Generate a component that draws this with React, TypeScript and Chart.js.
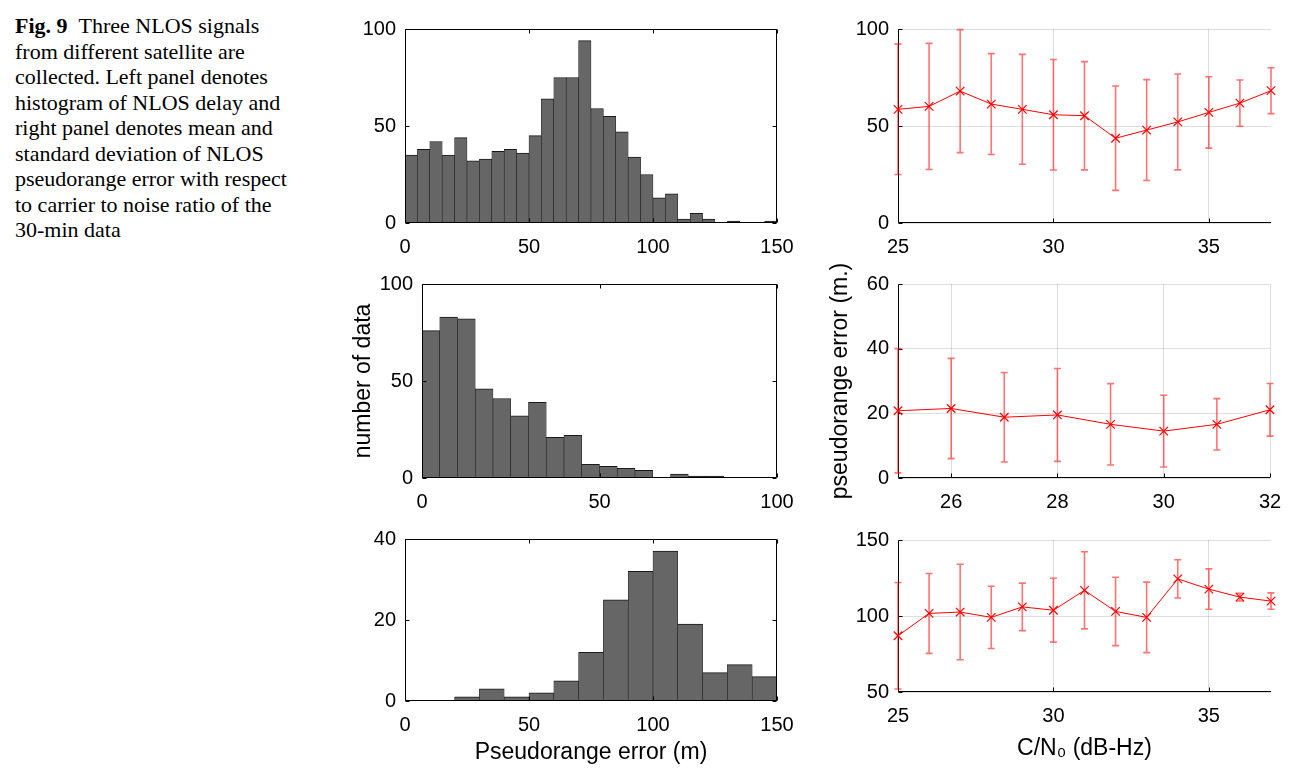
import React, { useEffect, useRef } from "react";
import { Chart, registerables } from "chart.js";

Chart.register(...registerables);

// ---------------- data ----------------
// Histogram 1 (satellite 1): 5 m bins, 0–150 m
const hist1BinCenters = [2.5, 7.5, 12.5, 17.5, 22.5, 27.5, 32.5, 37.5, 42.5, 47.5, 52.5, 57.5, 62.5, 67.5, 72.5, 77.5, 82.5, 87.5, 92.5, 97.5, 102.5, 107.5, 112.5, 117.5, 122.5, 127.5, 132.5, 137.5, 142.5, 147.5];
const hist1Counts = [35, 38, 42, 35, 44, 32, 33, 37, 38, 36, 45, 64, 75, 75, 94, 59, 55, 47, 34, 25, 13, 15, 2, 5, 2, 0, 1, 0, 0, 1];
const hist1XTicks = [0, 50, 100, 150];
const hist1YTicks = [0, 50, 100];

// Histogram 2 (satellite 2): 5 m bins, 0–100 m
const hist2BinCenters = [2.5, 7.5, 12.5, 17.5, 22.5, 27.5, 32.5, 37.5, 42.5, 47.5, 52.5, 57.5, 62.5, 67.5, 72.5, 77.5, 82.5, 87.5, 92.5, 97.5];
const hist2Counts = [76, 83, 82, 46, 41, 32, 39, 21, 22, 7, 6, 5, 4, 0, 2, 1, 1, 0, 0, 0];
const hist2XTicks = [0, 50, 100];
const hist2YTicks = [0, 50, 100];

// Histogram 3 (satellite 3): 10 m bins, 0–150 m
const hist3BinCenters = [5, 15, 25, 35, 45, 55, 65, 75, 85, 95, 105, 115, 125, 135, 145];
const hist3Counts = [0, 0, 1, 3, 1, 2, 5, 12, 25, 32, 37, 19, 7, 9, 6];
const hist3XTicks = [0, 50, 100, 150];
const hist3YTicks = [0, 20, 40];

// Error-bar panel 1
const err1CN0 = [25, 26, 27, 28, 29, 30, 31, 32, 33, 34, 35, 36, 37];
const err1Mean = [58.6, 60.1, 68, 61.3, 58.6, 55.8, 55.3, 43.7, 47.9, 52.1, 57, 61.8, 68.2];
const err1Std = [33.6, 32.5, 31.7, 26, 28.3, 28.5, 27.9, 26.9, 26, 24.7, 18.4, 11.9, 11.8];
const err1XTicks = [25, 30, 35];
const err1YTicks = [0, 50, 100];

// Error-bar panel 2
const err2CN0 = [25, 26, 27, 28, 29, 30, 31, 32];
const err2Mean = [20.8, 21.5, 18.8, 19.5, 16.6, 14.5, 16.6, 21.1];
const err2Std = [19.2, 15.5, 13.85, 14.35, 12.6, 11.1, 7.95, 8.15];
const err2XTicks = [26, 28, 30, 32];
const err2YTicks = [0, 20, 40, 60];

// Error-bar panel 3
const err3CN0 = [25, 26, 27, 28, 29, 30, 31, 32, 33, 34, 35, 36, 37];
const err3Mean = [87, 101.7, 102.6, 99.1, 106, 103.8, 116.9, 103, 99.1, 124.4, 117.7, 112.4, 109.8];
const err3Std = [35, 26.3, 31.4, 20.5, 15.6, 21, 25.4, 22.5, 23.2, 12.6, 13.3, 2.5, 5.4];
const err3XTicks = [25, 30, 35];
const err3YTicks = [50, 100, 150];

const captionLines = [
  "from different satellite are",
  "collected. Left panel denotes",
  "histogram of NLOS delay and",
  "right panel denotes mean and",
  "standard deviation of NLOS",
  "pseudorange error with respect",
  "to carrier to noise ratio of the",
  "30-min data",
];

// ---------------- styles / layout ----------------
const FONT = '"Liberation Sans", Arial, Helvetica, sans-serif';
const TICK_FONT = { family: FONT, size: 20 };
const TITLE_FONT = { family: FONT, size: 23 };
const BAR_FILL = "#666666";
const BAR_EDGE = "#1a1a1a";
const RED = "#ff0000";
const ERR_COLOR = "rgba(255,0,0,0.55)";
const GRID = "rgba(0,0,0,0.13)";

const ML = 90; // space left of plot area inside canvas
const MT = 16; // space above plot area
const MR = 30; // space right of plot area

Chart.defaults.font.family = FONT;
Chart.defaults.color = "#000";

type Rect = { l: number; t: number; r: number; b: number };

function canvasBox(rect: Rect, mb: number) {
  return {
    left: rect.l - ML,
    top: rect.t - MT,
    width: rect.r - rect.l + ML + MR,
    height: rect.b - rect.t + MT + mb,
  };
}

function fixedTicks(values: number[]) {
  return (scale: any) => {
    scale.ticks = values.map((v) => ({ value: v }));
  };
}

// ---------------- plugins ----------------
function drawAxes(chart: any, opts: any) {
  const { ctx, chartArea: a } = chart;
  const xs = chart.scales.x;
  const ys = chart.scales.y;
  const L = Math.round(a.left) + 0.5;
  const R = Math.round(a.right) - 0.5;
  const T = Math.round(a.top) + 0.5;
  const B = Math.round(a.bottom) - 0.5;
  const len = 4;
  ctx.save();
  ctx.strokeStyle = "#000";
  ctx.lineWidth = 1;
  ctx.beginPath();
  if (opts.box) {
    ctx.rect(L, T, R - L, B - T);
  } else {
    ctx.moveTo(L, T);
    ctx.lineTo(L, B);
    ctx.lineTo(R + 0.5, B);
  }
  xs.ticks.forEach((t: any) => {
    const px = Math.round(xs.getPixelForValue(t.value)) + 0.5;
    ctx.moveTo(px, B);
    ctx.lineTo(px, B - len);
    if (opts.box) {
      ctx.moveTo(px, T);
      ctx.lineTo(px, T + len);
    }
  });
  ys.ticks.forEach((t: any) => {
    const py = Math.round(ys.getPixelForValue(t.value)) + 0.5;
    ctx.moveTo(L, py);
    ctx.lineTo(L + len, py);
    if (opts.box) {
      ctx.moveTo(R, py);
      ctx.lineTo(R - len, py);
    }
  });
  ctx.stroke();
  ctx.restore();
}

const axesDecorPlugin = {
  id: "axesDecor",
  beforeDatasetsDraw(chart: any, _a: any, opts: any) {
    if (!opts.over) drawAxes(chart, opts);
  },
  afterDatasetsDraw(chart: any, _a: any, opts: any) {
    if (opts.over) drawAxes(chart, opts);
  },
};

const errorBarPlugin = {
  id: "errorBars",
  beforeDatasetsDraw(chart: any) {
    const ds: any = chart.data.datasets[0];
    const std: number[] = ds.errorStd;
    if (!std) return;
    const { ctx } = chart;
    const xs = chart.scales.x;
    const ys = chart.scales.y;
    const cap = 3.5;
    ctx.save();
    ctx.strokeStyle = ERR_COLOR;
    ctx.lineWidth = 1.6;
    ctx.beginPath();
    ds.data.forEach((p: any, i: number) => {
      const px = xs.getPixelForValue(p.x);
      const top = ys.getPixelForValue(p.y + std[i]);
      const bot = ys.getPixelForValue(p.y - std[i]);
      ctx.moveTo(px, top);
      ctx.lineTo(px, bot);
      ctx.moveTo(px - cap, top);
      ctx.lineTo(px + cap, top);
      ctx.moveTo(px - cap, bot);
      ctx.lineTo(px + cap, bot);
    });
    ctx.stroke();
    ctx.restore();
  },
};

const sideTitlePlugin = {
  id: "sideTitle",
  afterDraw(chart: any, _a: any, opts: any) {
    if (!opts || !opts.text) return;
    const { ctx, chartArea: a } = chart;
    ctx.save();
    ctx.translate(a.left - opts.offset, (a.top + a.bottom) / 2);
    ctx.rotate(-Math.PI / 2);
    ctx.font = `${TITLE_FONT.size}px ${FONT}`;
    ctx.fillStyle = "#000";
    ctx.textAlign = "center";
    ctx.textBaseline = "middle";
    ctx.fillText(opts.text, 0, 0);
    ctx.restore();
  },
};

// ---------------- config builders ----------------
type HistSpec = {
  rect: Rect;
  mb: number;
  centers: number[];
  counts: number[];
  xMax: number;
  yMax: number;
  xTicks: number[];
  yTicks: number[];
  xTitle?: string;
  xTitlePad?: number;
  yTitle?: string;
  yTitlePad?: number;
};

function histConfig(s: HistSpec): any {
  return {
    type: "bar",
    data: {
      datasets: [
        {
          data: s.centers.map((c, i) => ({ x: c, y: s.counts[i] })),
          backgroundColor: BAR_FILL,
          borderColor: BAR_EDGE,
          borderWidth: { top: 1, left: 0.6, right: 0.6, bottom: 0 },
          borderSkipped: "start",
          barPercentage: 1,
          categoryPercentage: 1,
          grouped: false,
        },
      ],
    },
    options: {
      responsive: false,
      animation: false,
      devicePixelRatio: 1,
      events: [],
      layout: { padding: { top: MT, right: MR, left: 0, bottom: 0 } },
      plugins: {
        legend: { display: false },
        tooltip: { enabled: false },
        axesDecor: { box: true, over: true },
      },
      scales: {
        x: {
          type: "linear",
          min: 0,
          max: s.xMax,
          offset: false,
          grid: { display: false, drawTicks: false, offset: false },
          border: { display: false },
          ticks: { font: TICK_FONT, color: "#000", padding: 12, maxRotation: 0, autoSkip: false, callback: (v: any) => String(v) },
          afterBuildTicks: fixedTicks(s.xTicks),
          afterFit: (sc: any) => {
            sc.height = s.mb;
          },
          title: s.xTitle
            ? { display: true, text: s.xTitle, font: TITLE_FONT, color: "#000", padding: { top: 0, bottom: s.xTitlePad || 0 } }
            : { display: false },
        },
        y: {
          type: "linear",
          min: 0,
          max: s.yMax,
          grid: { display: false, drawTicks: false },
          border: { display: false },
          ticks: { font: TICK_FONT, color: "#000", padding: 9, autoSkip: false, callback: (v: any) => String(v) },
          afterBuildTicks: fixedTicks(s.yTicks),
          afterFit: (sc: any) => {
            sc.width = ML;
          },
          title: s.yTitle
            ? { display: true, text: s.yTitle, font: TITLE_FONT, color: "#000", padding: { top: s.yTitlePad || 0, bottom: 0 } }
            : { display: false },
        },
      },
    },
    plugins: [axesDecorPlugin],
  };
}

type ErrSpec = {
  rect: Rect;
  mb: number;
  cn0: number[];
  mean: number[];
  std: number[];
  xMin: number;
  xMax: number;
  yMin: number;
  yMax: number;
  xTicks: number[];
  yTicks: number[];
  xTitle?: string;
  xTitlePad?: number;
  yTitle?: string;
  yTitleOffset?: number;
};

function errConfig(s: ErrSpec): any {
  const plugins: any[] = [axesDecorPlugin, errorBarPlugin];
  if (s.yTitle) plugins.push(sideTitlePlugin);
  return {
    type: "line",
    data: {
      datasets: [
        {
          data: s.cn0.map((x, i) => ({ x, y: s.mean[i] })),
          errorStd: s.std,
          borderColor: RED,
          borderWidth: 1,
          pointStyle: "crossRot",
          pointRadius: 6,
          pointHoverRadius: 6,
          pointBorderColor: RED,
          pointBackgroundColor: RED,
          pointBorderWidth: 1.2,
          fill: false,
          tension: 0,
          clip: false,
        },
      ],
    },
    options: {
      responsive: false,
      animation: false,
      devicePixelRatio: 1,
      events: [],
      layout: { padding: { top: MT, right: MR, left: 0, bottom: 0 } },
      plugins: {
        legend: { display: false },
        tooltip: { enabled: false },
        axesDecor: { box: false, over: false },
        sideTitle: s.yTitle ? { text: s.yTitle, offset: s.yTitleOffset || 57 } : {},
      },
      scales: {
        x: {
          type: "linear",
          min: s.xMin,
          max: s.xMax,
          grid: { color: GRID, lineWidth: 1, drawTicks: false },
          border: { display: false },
          ticks: { font: TICK_FONT, color: "#000", padding: 12, maxRotation: 0, autoSkip: false, callback: (v: any) => String(v) },
          afterBuildTicks: fixedTicks(s.xTicks),
          afterFit: (sc: any) => {
            sc.height = s.mb;
          },
          title: s.xTitle
            ? { display: true, text: s.xTitle, font: TITLE_FONT, color: "#000", padding: { top: 0, bottom: s.xTitlePad || 0 } }
            : { display: false },
        },
        y: {
          type: "linear",
          min: s.yMin,
          max: s.yMax,
          grid: { color: GRID, lineWidth: 1, drawTicks: false },
          border: { display: false },
          ticks: { font: TICK_FONT, color: "#000", padding: 9, autoSkip: false, callback: (v: any) => String(v) },
          afterBuildTicks: fixedTicks(s.yTicks),
          afterFit: (sc: any) => {
            sc.width = ML;
          },
        },
      },
    },
    plugins,
  };
}

// ---------------- panel specs ----------------
const hist1: HistSpec = {
  rect: { l: 405, t: 24, r: 777, b: 223 },
  mb: 40,
  centers: hist1BinCenters,
  counts: hist1Counts,
  xMax: 150,
  yMax: 100,
  xTicks: hist1XTicks,
  yTicks: hist1YTicks,
};

const hist2: HistSpec = {
  rect: { l: 422, t: 279, r: 777, b: 478 },
  mb: 40,
  centers: hist2BinCenters,
  counts: hist2Counts,
  xMax: 100,
  yMax: 100,
  xTicks: hist2XTicks,
  yTicks: hist2YTicks,
  yTitle: "number of data",
  yTitlePad: 18,
};

const hist3: HistSpec = {
  rect: { l: 405, t: 534, r: 777, b: 701 },
  mb: 70,
  centers: hist3BinCenters,
  counts: hist3Counts,
  xMax: 150,
  yMax: 40,
  xTicks: hist3XTicks,
  yTicks: hist3YTicks,
  xTitle: "Pseudorange error (m)",
  xTitlePad: 5,
};

const err1: ErrSpec = {
  rect: { l: 898, t: 24, r: 1271, b: 223 },
  mb: 40,
  cn0: err1CN0,
  mean: err1Mean,
  std: err1Std,
  xMin: 25,
  xMax: 37,
  yMin: 0,
  yMax: 100,
  xTicks: err1XTicks,
  yTicks: err1YTicks,
};

const err2: ErrSpec = {
  rect: { l: 898, t: 279, r: 1270, b: 478 },
  mb: 40,
  cn0: err2CN0,
  mean: err2Mean,
  std: err2Std,
  xMin: 25,
  xMax: 32,
  yMin: 0,
  yMax: 60,
  xTicks: err2XTicks,
  yTicks: err2YTicks,
  yTitle: "pseudorange error (m.)",
  yTitleOffset: 57,
};

const err3: ErrSpec = {
  rect: { l: 898, t: 535, r: 1271, b: 692 },
  mb: 70,
  cn0: err3CN0,
  mean: err3Mean,
  std: err3Std,
  xMin: 25,
  xMax: 37,
  yMin: 50,
  yMax: 150,
  xTicks: err3XTicks,
  yTicks: err3YTicks,
  xTitle: "C/N\u2080 (dB-Hz)",
  xTitlePad: 0,
};

// ---------------- components ----------------
function ChartCanvas({ rect, mb, build }: { rect: Rect; mb: number; build: () => any }) {
  const ref = useRef<HTMLCanvasElement>(null);
  const box = canvasBox(rect, mb);
  useEffect(() => {
    if (!ref.current) return;
    const chart = new Chart(ref.current, build());
    return () => chart.destroy();
  }, []);
  return (
    <canvas
      ref={ref}
      width={box.width}
      height={box.height}
      style={{ position: "absolute", left: box.left, top: box.top, width: box.width, height: box.height }}
    />
  );
}

export default function App() {
  return (
    <div
      style={{
        position: "absolute",
        left: 0,
        top: 0,
        width: 1299,
        height: 779,
        background: "#fff",
        overflow: "hidden",
      }}
    >
      <div
        style={{
          position: "absolute",
          left: 15,
          top: 13,
          fontFamily: '"Liberation Serif", "Times New Roman", Times, serif',
          fontSize: 22,
          lineHeight: "25.5px",
          color: "#000",
          whiteSpace: "nowrap",
        }}
      >
        <div>
          <b>Fig. 9</b>
          {"\u2002Three NLOS signals"}
        </div>
        {captionLines.map((line, i) => (
          <div key={i}>{line}</div>
        ))}
      </div>
      <ChartCanvas rect={hist1.rect} mb={hist1.mb} build={() => histConfig(hist1)} />
      <ChartCanvas rect={hist2.rect} mb={hist2.mb} build={() => histConfig(hist2)} />
      <ChartCanvas rect={hist3.rect} mb={hist3.mb} build={() => histConfig(hist3)} />
      <ChartCanvas rect={err1.rect} mb={err1.mb} build={() => errConfig(err1)} />
      <ChartCanvas rect={err2.rect} mb={err2.mb} build={() => errConfig(err2)} />
      <ChartCanvas rect={err3.rect} mb={err3.mb} build={() => errConfig(err3)} />
    </div>
  );
}
